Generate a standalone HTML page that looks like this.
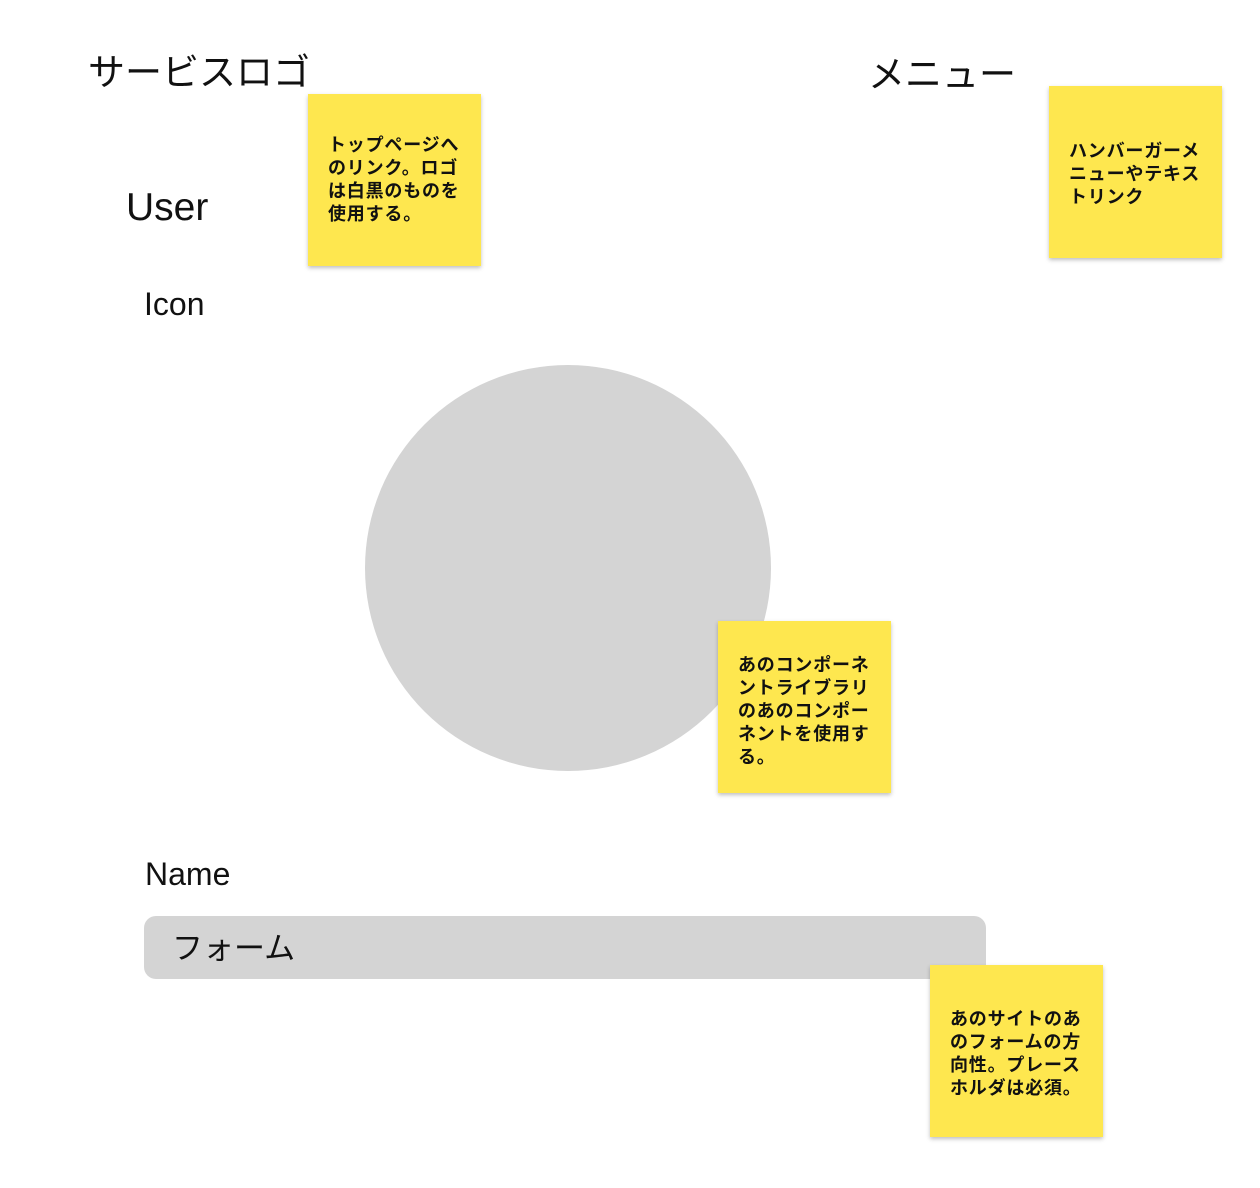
<!DOCTYPE html>
<html><head><meta charset="utf-8"><style>
html,body{margin:0;padding:0;background:#fff;}
body{width:1260px;height:1188px;position:relative;overflow:hidden;font-family:"Liberation Sans","Noto Sans CJK JP",sans-serif;color:#111;}
.t{position:absolute;white-space:nowrap;line-height:1;}
.s{position:absolute;width:173px;height:172px;background:#fee74f;box-shadow:0 2px 4px rgba(0,0,0,0.25);box-sizing:border-box;padding:0 10px 0 20px;font-weight:bold;font-size:18px;letter-spacing:0.8px;line-height:23px;color:#111;}
</style></head><body>
<div class="t" style="left:88px;top:54px;font-size:37px;">サービスロゴ</div>
<div class="t" style="left:868px;top:56px;font-size:37px;">メニュー</div>
<div class="t" style="left:126px;top:188px;font-size:39px;">User</div>
<div class="t" style="left:144px;top:288px;font-size:32px;">Icon</div>
<div style="position:absolute;left:365px;top:365px;width:406px;height:406px;border-radius:50%;background:#d4d4d4;"></div>
<div class="t" style="left:145px;top:858px;font-size:32px;">Name</div>
<div style="position:absolute;left:144px;top:916px;width:842px;height:63px;border-radius:12px;background:#d4d4d4;"></div>
<div class="t" style="left:172px;top:933px;font-size:31px;">フォーム</div>

<div class="s" style="left:308px;top:94px;padding-top:40px;">トップページへのリンク。ロゴは白黒のものを使用する。</div>
<div class="s" style="left:1049px;top:86px;padding-top:54px;">ハンバーガーメニューやテキストリンク</div>
<div class="s" style="left:718px;top:621px;padding-top:33px;">あのコンポーネントライブラリのあのコンポーネントを使用する。</div>
<div class="s" style="left:930px;top:965px;padding-top:43px;">あのサイトのあのフォームの方向性。プレースホルダは必須。</div>
</body></html>
